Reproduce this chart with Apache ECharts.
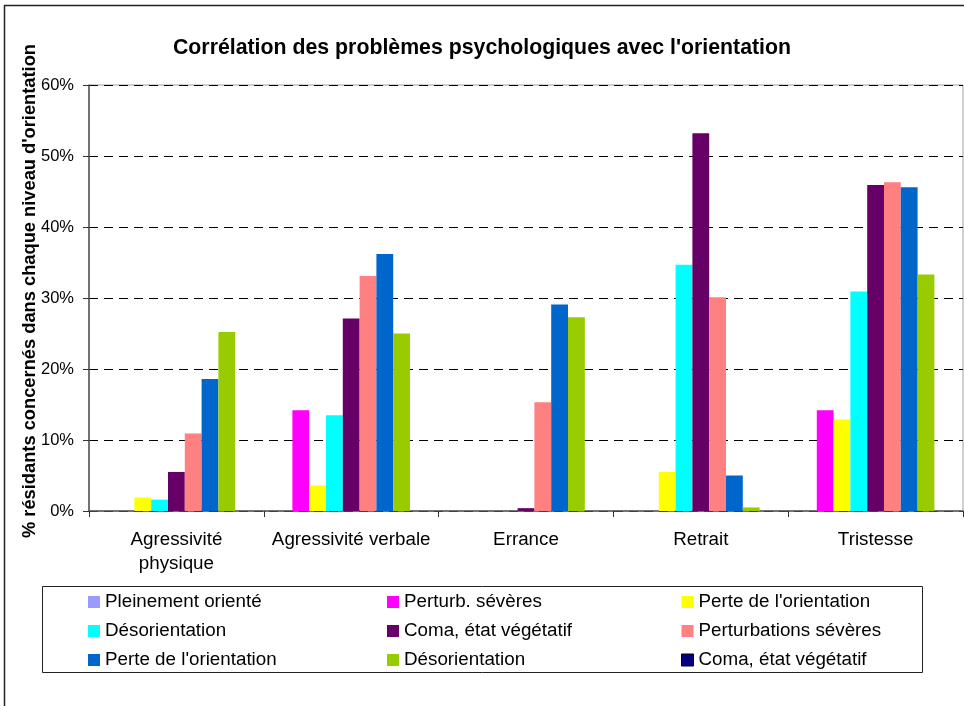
<!DOCTYPE html>
<html>
<head>
<meta charset="utf-8">
<script src="https://cdn.jsdelivr.net/npm/echarts@6/dist/echarts.min.js"></script>
<style>
html,body{margin:0;padding:0;background:#fff;}
#chart{width:964px;height:706px;}
</style>
</head>
<body>
<div id="chart"></div>
<script>
// ---- data ----
var categories = ['Agressivité\nphysique', 'Agressivité verbale', 'Errance', 'Retrait', 'Tristesse'];
var seriesNames = ['Pleinement orienté', 'Perturb. sévères', "Perte de l'orientation", 'Désorientation',
  'Coma, état végétatif', 'Perturbations sévères', "Perte de l'orientation", 'Désorientation', 'Coma, état végétatif'];
var seriesColors = ['#9999FF', '#FF00FF', '#FFFF00', '#00FFFF', '#660066', '#FF8080', '#0066CC', '#99CC00', '#000080'];
var pleinementOriente   = [0, 0, 0, 0, 0];
var perturbSeveres      = [0, 14.2, 0, 0, 14.2];
var perteOrientation1   = [1.9, 3.6, 0, 5.5, 12.9];
var desorientation1     = [1.6, 13.5, 0, 34.7, 30.9];
var coma1               = [5.5, 27.1, 0.4, 53.2, 45.9];
var perturbationsSev    = [10.9, 33.1, 15.3, 30.1, 46.3];
var perteOrientation2   = [18.6, 36.2, 29.1, 5.0, 45.6];
var desorientation2     = [25.2, 25.0, 27.3, 0.5, 33.3];
var coma2               = [0, 0, 0, 0, 0];
var yTicks = [0, 10, 20, 30, 40, 50, 60];

var allValues = [pleinementOriente, perturbSeveres, perteOrientation1, desorientation1, coma1,
  perturbationsSev, perteOrientation2, desorientation2, coma2];

var ids = allValues.map(function (_, i) { return 's' + i; });
var nameById = {};
ids.forEach(function (id, i) { nameById[id] = seriesNames[i]; });

var series = allValues.map(function (vals, i) {
  return {
    name: ids[i],
    type: 'bar',
    data: vals,
    barGap: '0%',
    barCategoryGap: '13.5%',
    itemStyle: { color: seriesColors[i] },
    animation: false
  };
});

var FONT = 'Liberation Sans, Arial, sans-serif';

function makeLegend(idxs, left) {
  return {
    orient: 'vertical',
    left: left,
    top: 591,
    padding: 0,
    itemWidth: 12,
    itemHeight: 12,
    itemGap: 7,
    icon: 'rect',
    data: idxs.map(function (i) {
      var d = { name: ids[i] };
      if (i === 8) d.itemStyle = { borderColor: '#000', borderWidth: 1 };
      return d;
    }),
    formatter: function (n) { return nameById[n]; },
    textStyle: { fontFamily: FONT, fontSize: 18.8, color: '#000', lineHeight: 22 },
    selectedMode: false
  };
}

var chart = echarts.init(document.getElementById('chart'), null, { renderer: 'canvas' });
chart.setOption({
  backgroundColor: '#fff',
  animation: false,
  title: {
    text: "Corrélation des problèmes psychologiques avec l'orientation",
    left: 'center',
    top: 33,
    textStyle: { fontFamily: FONT, fontSize: 21.3, fontWeight: 'bold', color: '#000' }
  },
  graphic: [
    { type: 'rect', shape: { x: 4.5, y: 5.5, width: 1000, height: 800 }, style: { fill: 'none', stroke: '#222', lineWidth: 1.5 }, silent: true, z: -1 },
    { type: 'rect', shape: { x: 42.5, y: 586.5, width: 880, height: 86 }, style: { fill: 'none', stroke: '#222', lineWidth: 1 }, silent: true, z: -1 }
  ],
  legend: [makeLegend([0, 3, 6], 88), makeLegend([1, 4, 7], 387), makeLegend([2, 5, 8], 681)],
  grid: { left: 89, top: 85, right: 1, bottom: 195, show: true, borderColor: '#a0a0a0', borderWidth: 1, containLabel: false },
  xAxis: {
    type: 'category',
    data: categories,
    axisLine: { lineStyle: { color: '#555', width: 1.5 } },
    axisTick: { show: true, alignWithLabel: false, length: 6, lineStyle: { color: '#333' } },
    axisLabel: { fontFamily: FONT, fontSize: 18.8, color: '#000', margin: 17, lineHeight: 24, interval: 0 }
  },
  yAxis: {
    type: 'value',
    min: yTicks[0],
    max: yTicks[yTicks.length - 1],
    interval: 10,
    name: "% résidants concernés dans chaque niveau d'orientation",
    nameLocation: 'middle',
    nameGap: 50,
    nameMoveOverlap: false,
    nameTextStyle: { fontFamily: FONT, fontSize: 18.3, fontWeight: 'bold', color: '#000', padding: [0, 0, 0, 14] },
    axisLine: { show: true, lineStyle: { color: '#555', width: 1.5 } },
    axisTick: { show: true, inside: false, length: 6, lineStyle: { color: '#333' } },
    axisLabel: { fontFamily: FONT, fontSize: 16.5, color: '#000', margin: 15, formatter: '{value}%' },
    splitLine: { show: true, lineStyle: { color: '#000', type: [9, 6], width: 1 } }
  },
  series: series
});
</script>
</body>
</html>
